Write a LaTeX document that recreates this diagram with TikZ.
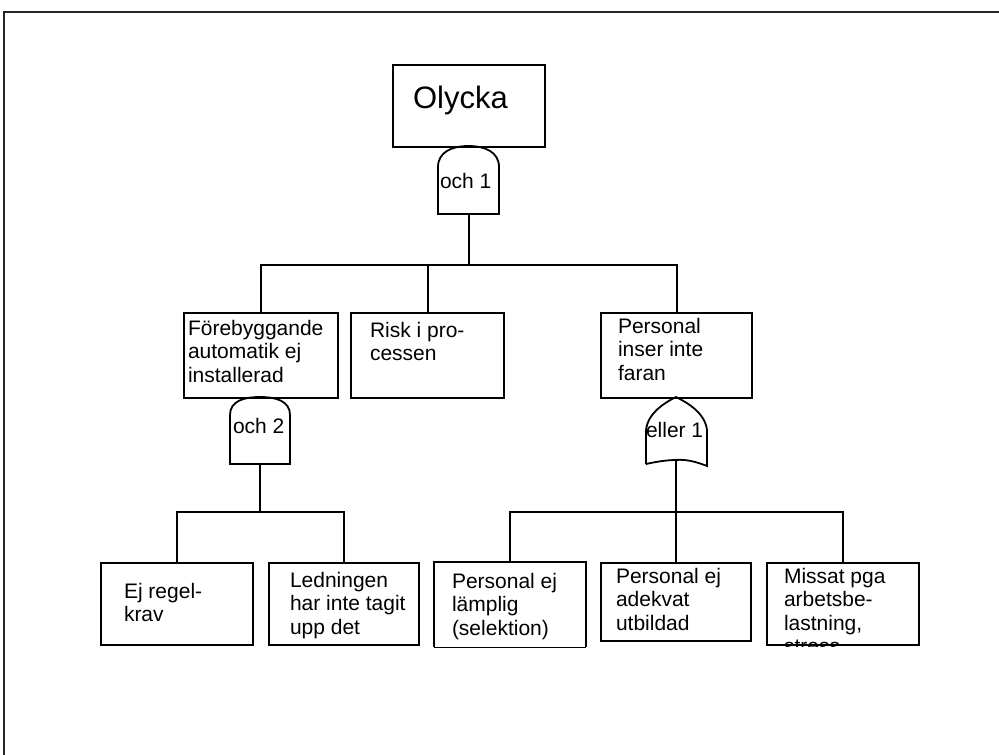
\documentclass[tikz,border=0pt]{standalone}
\usepackage{fontspec}
\setmainfont{Liberation Sans}
\newcommand{\txtlines}[1]{\begin{tabular}[t]{@{}l@{}}#1\end{tabular}}
\begin{document}
\begin{tikzpicture}[x=1pt,y=-1pt,line width=2pt,
  box/.style={draw, rectangle, inner sep=0pt, anchor=north west},
  lbl/.style={anchor=base west, inner sep=0pt, font=\fontsize{21}{23.5}\selectfont},
  gatepath/.style={draw, line width=1.8pt},
  conn/.style={draw, line width=2pt}]
\useasboundingbox (0,0) rectangle (999,755);
% frame
\draw[line width=2pt, black!85] (4,755) -- (4,12) -- (999,12);
% boxes
\node[box, minimum width=152pt, minimum height=82pt] (top) at (392,64) {};
\node[box, minimum width=154pt, minimum height=85pt] (fore) at (183,312) {};
\node[box, minimum width=153pt, minimum height=85pt] (risk) at (350,312) {};
\node[box, minimum width=151pt, minimum height=85pt] (pers) at (600,312) {};
\node[box, minimum width=152pt, minimum height=82pt] (b1) at (100,562) {};
\node[box, minimum width=150pt, minimum height=82pt] (b2) at (268,562) {};
\node[box, draw=none, minimum width=150pt, minimum height=83pt] (b3) at (434,562) {};
\draw (b3.south west) -- (b3.north west) -- (b3.north east) -- (b3.south east);
\draw[line width=0.7pt] (b3.south west) -- (b3.south east);
\node[box, minimum width=150pt, minimum height=78pt] (b4) at (600,562) {};
\node[box, minimum width=152pt, minimum height=82pt] (b5) at (766,562) {};
% texts
\node[anchor=base west, inner sep=0pt, font=\fontsize{31}{36}\selectfont] (tolycka) at (412,108) {Olycka};
\node[lbl] (tfore) at (187,335) {\txtlines{Förebyggande\\automatik ej\\installerad}};
\node[lbl] (trisk) at (369,337) {\txtlines{Risk i pro-\\cessen}};
\node[lbl] (tpers) at (617,333) {\txtlines{Personal\\inser inte\\faran}};
\node[lbl] (tb1) at (123,598) {\txtlines{Ej regel-\\krav}};
\node[lbl] (tb2) at (289,587) {\txtlines{Ledningen\\har inte tagit\\upp det}};
\node[lbl] (tb3) at (451,588) {\txtlines{Personal ej\\lämplig\\(selektion)}};
\node[lbl] (tb4) at (615,583) {\txtlines{Personal ej\\adekvat\\utbildad}};
\begin{scope}
\clip (b5.north west) rectangle (b5.south east);
\node[lbl] (tb5) at (783,583) {\txtlines{Missat pga\\arbetsbe-\\lastning,\\stress}};
\end{scope}
% gates
\draw[gatepath] (438,214) -- (438,167) .. controls (438,152) and (452,146) .. (468.5,146)
  .. controls (485,146) and (499,152) .. (499,167) -- (499,214) -- cycle;
\coordinate (g1b) at (468.5,214);
\draw[gatepath] (230,464) -- (230,415) .. controls (230,401) and (244,397) .. (260,397)
  .. controls (276,397) and (290,401) .. (290,415) -- (290,464) -- cycle;
\coordinate (g2b) at (260,464);
\draw[gatepath] (646,464) -- (646,430) .. controls (648,413) and (664,403) .. (676,397)
  .. controls (688,403) and (705,413) .. (707,430) -- (707,466)
  .. controls (697,462) and (686,459) .. (676,460)
  .. controls (666,460) and (655,462) .. (646,464);
\coordinate (g3b) at (676,460);
\node[lbl] (tg1) at (439,188) {och 1};
\node[lbl] (tg2) at (232,433) {och 2};
\node[lbl] (tg3) at (645,437) {eller 1};
% connectors
\coordinate (bar1) at (468.5,265);
\draw[conn] (g1b) -- (bar1);
\draw[conn] (fore.north) -- (fore.north |- bar1) -- (pers.north |- bar1) -- (pers.north);
\draw[conn] (risk.north) -- (risk.north |- bar1);
\coordinate (bar2) at (260,512);
\draw[conn] (g2b) -- (bar2);
\draw[conn] (b1.north) -- (b1.north |- bar2) -- (b2.north |- bar2) -- (b2.north);
\coordinate (bar3) at (676,512);
\draw[conn] (g3b) -- (bar3);
\draw[conn] (b3.north) -- (b3.north |- bar3) -- (b5.north |- bar3) -- (b5.north);
\draw[conn] (b4.north) -- (b4.north |- bar3);
\end{tikzpicture}
\end{document}
